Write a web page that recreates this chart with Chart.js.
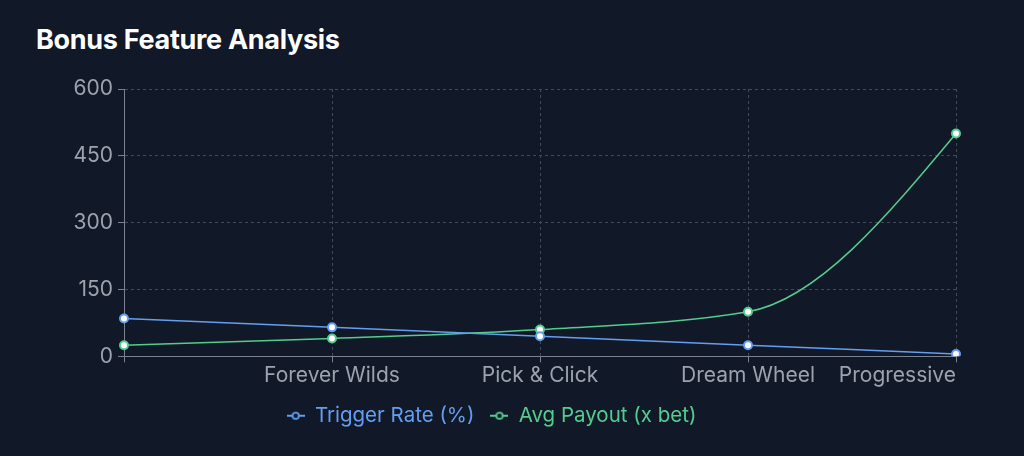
<!DOCTYPE html>
<html>
<head>
<meta charset="utf-8">
<script src="https://cdn.jsdelivr.net/npm/chart.js@4/dist/chart.umd.min.js"></script>
<style>
  html, body { margin: 0; padding: 0; background: #111827; }
  body { width: 1024px; height: 456px; position: relative; overflow: hidden; font-family: Inter, "Noto Sans", sans-serif; }
  h2 { position: absolute; left: 36px; top: 23px; margin: 0; color: #ffffff; font-size: 27px; font-weight: 700; letter-spacing: -0.3px; }
  .wrap { position: absolute; left: 0; top: 70px; width: 1024px; height: 370px; }
</style>
</head>
<body>
<h2>Bonus Feature Analysis</h2>
<div class="wrap"><canvas id="bonusChart"></canvas></div>
<script>
// chart data
const features = ['', 'Forever Wilds', 'Pick & Click', 'Dream Wheel', 'Progressive'];
const triggerRate = [85, 65, 45, 25, 5];
const avgPayout = [25, 40, 60, 100, 500];
const yTicks = [0, 150, 300, 450, 600];

const blue = '#649ef2';
const green = '#55cc8e';
const axisGray = '#7b8190';
const gridGray = '#434b5b';
const tickText = '#9ca3af';

// "-o-" legend icon like the original
function legendIcon(color) {
    const c = document.createElement('canvas');
    c.width = 18; c.height = 10;
    const g = c.getContext('2d');
    g.strokeStyle = color;
    g.lineWidth = 2;
    g.beginPath(); g.moveTo(0, 5); g.lineTo(18, 5); g.stroke();
    g.beginPath(); g.arc(9, 5, 3.2, 0, Math.PI * 2);
    g.fillStyle = '#111827'; g.fill();
    g.lineWidth = 1.8; g.stroke();
    return c;
}
const icons = [legendIcon(blue), legendIcon(green)];

// monotone-x curve (end tangents like d3) applied to the line's control points
function sgn(v) { return v < 0 ? -1 : 1; }
const monotoneX = {
    id: 'monotoneX',
    beforeDatasetsDraw(chart) {
        chart.data.datasets.forEach((ds, di) => {
            const meta = chart.getDatasetMeta(di);
            const pts = meta.data;
            const n = pts.length;
            if (n < 3) return;
            const t = new Array(n);
            for (let i = 1; i < n - 1; i++) {
                const h0 = pts[i].x - pts[i - 1].x, h1 = pts[i + 1].x - pts[i].x;
                const s0 = (pts[i].y - pts[i - 1].y) / h0, s1 = (pts[i + 1].y - pts[i].y) / h1;
                const p = (s0 * h1 + s1 * h0) / (h0 + h1);
                t[i] = (sgn(s0) + sgn(s1)) * Math.min(Math.abs(s0), Math.abs(s1), 0.5 * Math.abs(p)) || 0;
            }
            t[0] = (3 * (pts[1].y - pts[0].y) / (pts[1].x - pts[0].x) - t[1]) / 2;
            t[n - 1] = (3 * (pts[n - 1].y - pts[n - 2].y) / (pts[n - 1].x - pts[n - 2].x) - t[n - 2]) / 2;
            for (let i = 0; i < n - 1; i++) {
                const dx = (pts[i + 1].x - pts[i].x) / 3;
                pts[i].cp2x = pts[i].x + dx;
                pts[i].cp2y = pts[i].y + dx * t[i];
                pts[i + 1].cp1x = pts[i + 1].x - dx;
                pts[i + 1].cp1y = pts[i + 1].y - dx * t[i + 1];
            }
            meta.dataset._pointsUpdated = true;
        });
    }
};

const tickFont = { family: 'Inter', size: 21 };
const legendFont = { family: 'Inter', size: 20.5 };

new Chart(document.getElementById('bonusChart'), {
    type: 'line',
    data: {
        labels: features,
        datasets: [
            {
                label: 'Trigger Rate (%)',
                data: triggerRate,
                borderColor: blue,
                borderWidth: 1.5,
                pointBackgroundColor: '#ffffff',
                pointBorderColor: blue,
                pointBorderWidth: 2,
                pointRadius: 4,
                cubicInterpolationMode: 'monotone'
            },
            {
                label: 'Avg Payout (x bet)',
                data: avgPayout,
                borderColor: green,
                borderWidth: 1.5,
                pointBackgroundColor: '#ffffff',
                pointBorderColor: green,
                pointBorderWidth: 2,
                pointRadius: 4,
                cubicInterpolationMode: 'monotone'
            }
        ]
    },
    options: {
        responsive: true,
        maintainAspectRatio: false,
        animation: false,
        events: [],
        layout: { padding: { top: 19, right: 68, bottom: 4, left: 27 } },
        scales: {
            x: {
                offset: false,
                grid: { color: gridGray, tickColor: axisGray, tickLength: 6, tickBorderDash: [] },
                border: { color: axisGray, dash: [3, 3] },
                ticks: { color: tickText, font: tickFont, padding: 1, autoSkip: false, maxRotation: 0, align: 'inner' }
            },
            y: {
                min: 0,
                max: 600,
                afterBuildTicks: s => { s.ticks = yTicks.map(v => ({ value: v })); },
                afterFit: s => { s.width = 97; },
                grid: { color: gridGray, tickColor: axisGray, tickLength: 6, tickBorderDash: [] },
                border: { color: axisGray, dash: [3, 3] },
                ticks: { color: tickText, font: tickFont, padding: 5 }
            }
        },
        plugins: {
            legend: {
                position: 'bottom',
                labels: {
                    usePointStyle: true,
                    boxWidth: 18,
                    padding: 16,
                    font: legendFont,
                    generateLabels: chart => {
                        const items = Chart.defaults.plugins.legend.labels.generateLabels(chart);
                        items.forEach((it, i) => {
                            it.pointStyle = icons[i];
                            it.fontColor = i === 0 ? blue : green;
                        });
                        return items;
                    }
                }
            },
            tooltip: { enabled: false }
        }
    },
    plugins: [monotoneX]
});
</script>
</body>
</html>
